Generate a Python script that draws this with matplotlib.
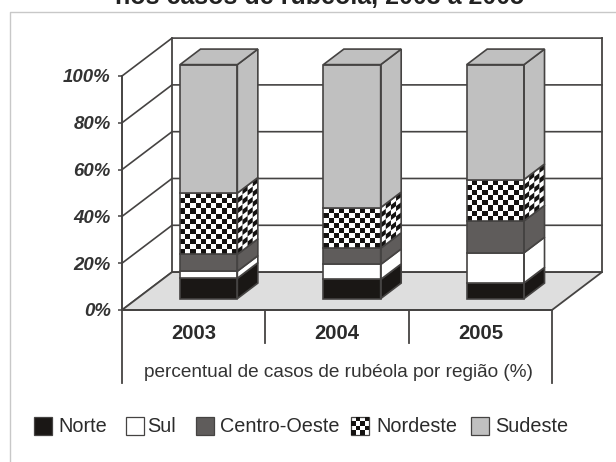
import numpy as np
import matplotlib
matplotlib.use('Agg')
import matplotlib.pyplot as plt
from matplotlib.collections import PolyCollection
from matplotlib.patches import Polygon, Rectangle
from matplotlib.lines import Line2D

plt.rcParams['font.family'] = ['Liberation Sans', 'DejaVu Sans']

years = ['2003', '2004', '2005']
regions = ['Norte', 'Sul', 'Centro-Oeste', 'Nordeste', 'Sudeste']
norte = [8.7, 8.2, 6.7]
sul = [3.0, 6.4, 12.9]
centro_oeste = [7.2, 6.9, 13.6]
nordeste = [26.2, 17.4, 17.7]
sudeste = [54.9, 61.1, 49.1]
yticks = [0, 20, 40, 60, 80, 100]

W, H = 616, 462
INK = '#454342'
colors_seg = ['#1a1715', '#ffffff', '#5f5c5b', None, '#c0c0c0']

# depth of the fake 3d box, in data units
DX = 0.349
DY = 16.2
BAR_W = 0.40
D0, D1 = 0.30, 0.71
CELL = 5.2


def px_x(x):
    return x / W


def px_y(y):
    return 1 - y / H


def proj(x, y, d):
    return (x + d * DX, y + d * DY)


def checker(ax, corners, nu, nv, z):
    # black squares of a checkerboard, mapped on a quad (bl, br, tr, tl)
    bl, br, tr, tl = [np.array(c) for c in corners]

    def at(u, v):
        return (bl * (1 - u) + br * u) * (1 - v) + (tl * (1 - u) + tr * u) * v

    cells = []
    for i in range(nu):
        for j in range(nv):
            if (i + j + nv) % 2 == 1:
                continue
            u0, u1 = i / nu, (i + 1) / nu
            v0, v1 = j / nv, (j + 1) / nv
            cells.append([at(u0, v0), at(u1, v0), at(u1, v1), at(u0, v1)])
    ax.add_collection(PolyCollection(cells, facecolors='#141211', edgecolors='none',
                                     zorder=z, clip_on=False))


def bar_segment(ax, x0, y0, y1, color, z):
    x1 = x0 + BAR_W
    front = [proj(x0, y0, D0), proj(x1, y0, D0), proj(x1, y1, D0), proj(x0, y1, D0)]
    side = [proj(x1, y0, D0), proj(x1, y0, D1), proj(x1, y1, D1), proj(x1, y1, D0)]
    fill = color if color else '#ffffff'
    for quad in (front, side):
        ax.add_patch(Polygon(quad, closed=True, facecolor=fill, edgecolor='none',
                             zorder=z, clip_on=False))
    if color is None:
        px_per_val = 234 / 100
        nv = max(2, int(round((y1 - y0) * px_per_val / CELL)))
        checker(ax, front, 11, nv, z + 0.1)
        checker(ax, side, 4, nv, z + 0.1)
    for quad in (front, side):
        ax.add_patch(Polygon(quad, closed=True, fill=False, edgecolor=INK, lw=1.2,
                             zorder=z + 0.2, clip_on=False))


fig = plt.figure(figsize=(W / 100, H / 100), dpi=100, facecolor='white')
ax = fig.add_axes([px_x(122), px_y(310), 430 / W, 234 / H])
ax.set_xlim(0, 3)
ax.set_ylim(0, 100)
ax.patch.set_visible(False)
for s in ('top', 'right'):
    ax.spines[s].set_visible(False)
for s in ('left', 'bottom'):
    ax.spines[s].set_color(INK)
    ax.spines[s].set_linewidth(1.4)
    ax.spines[s].set_zorder(20)

ax.set_yticks(yticks)
ax.set_yticklabels(['%d%%' % v for v in yticks], fontsize=13.4, fontweight='bold',
                   fontstyle='italic', color='#333333')
ax.tick_params(axis='y', length=3, width=1.1, color=INK, pad=5.2)
ax.set_xticks([0.5, 1.5, 2.5])
ax.set_xticklabels(years, fontsize=14.6, fontweight='bold', color='#2b2b2b')
ax.tick_params(axis='x', length=0, pad=9.8)

# floor
floor = [proj(0, 0, 0), proj(3, 0, 0), proj(3, 0, 1), proj(0, 0, 1)]
ax.add_patch(Polygon(floor, closed=True, facecolor='#dedede', edgecolor=INK, lw=1.3,
                     zorder=1, clip_on=False))

# walls and grid
for v in yticks:
    xs, ys = zip(proj(0, v, 0), proj(0, v, 1), proj(3, v, 1))
    ax.plot(xs, ys, color=INK, lw=1.2, zorder=0.5, clip_on=False)
for x in (0, 3):
    xs, ys = zip(proj(x, 0, 1), proj(x, 100, 1))
    ax.plot(xs, ys, color=INK, lw=1.3, zorder=0.5, clip_on=False)

# bars
series = [norte, sul, centro_oeste, nordeste, sudeste]
for i in range(len(years)):
    x0 = i + 0.5 - BAR_W / 2
    bottom = 0
    for k, values in enumerate(series):
        top = bottom + values[i]
        bar_segment(ax, x0, bottom, top, colors_seg[k], 3 + k)
        bottom = top
    x1 = x0 + BAR_W
    lid = [proj(x0, 100, D0), proj(x1, 100, D0), proj(x1, 100, D1), proj(x0, 100, D1)]
    ax.add_patch(Polygon(lid, closed=True, facecolor='#c0c0c0', edgecolor=INK, lw=1.2,
                         zorder=9, clip_on=False))

# table-like lines under the axis
trans = ax.get_xaxis_transform()
for x, low in [(0, -31), (1, -14), (2, -14), (3, -31)]:
    ax.add_line(Line2D([x, x], [0, low / 100], transform=trans, color=INK, lw=1.3,
                       clip_on=False))
ax.text(1.512, -26.6, 'percentual de casos de rubéola por região (%)', ha='center',
        va='center', fontsize=13.65, color='#333333', clip_on=False)

# outer frame, title cut by the top edge of the picture
fig.add_artist(Line2D([px_x(9.5), px_x(9.5), 1], [0, px_y(11.5), px_y(11.5)],
                      color='#c8c8c8', lw=1.0))
fig.text(px_x(320), px_y(4.5), 'nos casos de rubéola, 2003 a 2005', ha='center',
         va='baseline', fontsize=18, fontweight='bold', color='#222222')

# legend
box_x = [34, 126, 196, 351, 471]
text_x = [58, 147.5, 220, 376, 495]
for k, name in enumerate(regions):
    color = colors_seg[k]
    rect = Rectangle((px_x(box_x[k]), px_y(434.5)), 18 / W, 18 / H,
                     transform=fig.transFigure, facecolor=color if color else '#ffffff',
                     edgecolor=INK, lw=0.9)
    fig.add_artist(rect)
    if color is None:
        n = 4
        for i in range(n):
            for j in range(n):
                if (i + j) % 2 == 0:
                    fig.add_artist(Rectangle((px_x(box_x[k] + i * 4.5), px_y(434.5 - j * 4.5)),
                                             4.5 / W, 4.5 / H, transform=fig.transFigure,
                                             facecolor='#141211', edgecolor='none'))
    fig.text(px_x(text_x[k]), px_y(426), name, ha='left', va='center', fontsize=14.3,
             color='#2b2b2b')

fig.savefig('out.png', dpi=100)
